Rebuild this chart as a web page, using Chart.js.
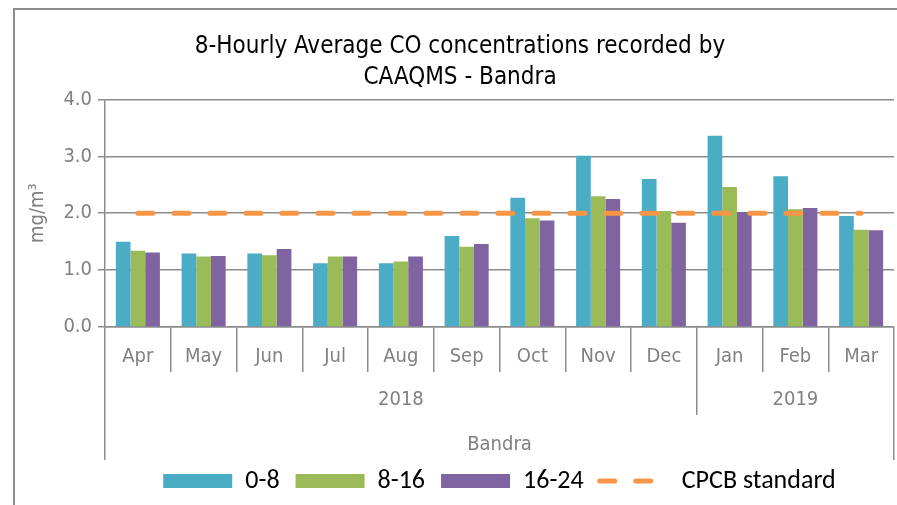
<!DOCTYPE html>
<html>
<head>
<meta charset="utf-8">
<script src="https://cdn.jsdelivr.net/npm/chart.js"></script>
<style>
  html, body { margin: 0; padding: 0; background: #fff; }
  #wrap { position: relative; width: 897px; height: 505px; overflow: hidden; }
  #frame { position: absolute; left: 13px; top: 8px; width: 1000px; height: 600px;
           border-left: 2px solid #8c8c8c; border-top: 2px solid #8c8c8c; }
  canvas { position: absolute; left: 0; top: 0; }
</style>
</head>
<body>
<div id="wrap">
  <div id="frame"></div>
  <canvas id="chart" width="897" height="505"></canvas>
</div>
<script>
// categories
const months = ["Apr", "May", "Jun", "Jul", "Aug", "Sep", "Oct", "Nov", "Dec", "Jan", "Feb", "Mar"];
const yearLabels = ["", "", "", "", "2018", "", "", "", "", "", "2019", ""];
const siteLabels = ["Bandra"];
const yTicks = [0, 1, 2, 3, 4];

// series (mg/m3)
const hours0to8 = [1.50, 1.29, 1.29, 1.12, 1.12, 1.60, 2.27, 3.01, 2.60, 3.36, 2.65, 1.95];
const hours8to16 = [1.34, 1.24, 1.26, 1.24, 1.15, 1.41, 1.91, 2.30, 2.04, 2.46, 2.07, 1.71];
const hours16to24 = [1.31, 1.25, 1.37, 1.24, 1.24, 1.46, 1.87, 2.25, 1.83, 2.02, 2.09, 1.70];
const cpcbStandard = [2, 2, 2, 2, 2, 2, 2, 2, 2, 2, 2, 2];

const narrow = "'Liberation Sans Narrow', 'Arial Narrow', 'DejaVu Sans Condensed', sans-serif";
const gridGray = "#8c8c8c";
const labelGray = "#808080";
const orange = "#F79646";
const clear = "rgba(0,0,0,0)";
const dash = [15, 21];

new Chart(document.getElementById("chart"), {
  type: "bar",
  data: {
    labels: months,
    datasets: [
      { label: "0-8", data: hours0to8, backgroundColor: "#4BACC6", pointStyle: "rect", order: 1 },
      { label: "8-16", data: hours8to16, backgroundColor: "#9BBB59", pointStyle: "rect", order: 1 },
      { label: "16-24", data: hours16to24, backgroundColor: "#8064A2", pointStyle: "rect", order: 1 },
      {
        type: "line",
        label: "CPCB standard",
        data: cpcbStandard,
        borderColor: orange,
        backgroundColor: orange,
        borderWidth: 5,
        borderDash: dash,
        borderCapStyle: "round",
        pointRadius: 0,
        pointStyle: "line",
        fill: false,
        order: 0,
      },
    ],
  },
  options: {
    responsive: false,
    animation: false,
    layout: { padding: { left: 26, right: 3, top: 0, bottom: 1 } },
    datasets: {
      bar: { barPercentage: 1, categoryPercentage: 0.67 },
    },
    plugins: {
      tooltip: { enabled: false },
      title: {
        display: true,
        text: ["8-Hourly Average CO concentrations recorded by", "CAAQMS - Bandra"],
        color: "#000",
        font: { family: narrow, size: 24, weight: "normal", lineHeight: 1.3 },
        padding: { top: 31, bottom: 6 },
      },
      legend: {
        position: "bottom",
        fullSize: false,
        labels: {
          usePointStyle: true,
          pointStyleWidth: 69,
          boxHeight: 14,
          padding: 16,
          color: "#000",
          font: { family: "Carlito, Lato, sans-serif", size: 26 },
          sort: (a, b) => a.datasetIndex - b.datasetIndex,
          generateLabels: (chart) =>
            Chart.defaults.plugins.legend.labels.generateLabels(chart).map((item) =>
              item.pointStyle === "line"
                ? Object.assign(item, { lineDash: dash, lineWidth: 5, lineCap: "round", strokeStyle: orange })
                : item
            ),
        },
      },
    },
    scales: {
      y: {
        min: 0,
        max: 4,
        afterBuildTicks: (s) => { s.ticks = yTicks.map((v) => ({ value: v })); },
        afterFit: (s) => { s.width = 79; },
        ticks: {
          color: labelGray,
          font: { family: narrow, size: 20 },
          padding: 6,
          callback: (v) => v.toFixed(1),
        },
        grid: { color: gridGray, lineWidth: 1.5, tickLength: 7 },
        border: { color: gridGray, width: 1.5 },
        title: {
          display: true,
          text: "mg/m³",
          color: labelGray,
          font: { family: narrow, size: 20 },
          padding: 0,
        },
      },
      x: {
        weight: 0,
        afterFit: (s) => { s.height = 45; },
        ticks: {
          color: labelGray,
          font: { family: narrow, size: 20 },
          padding: -27,
          autoSkip: false,
          maxRotation: 0,
        },
        grid: { offset: true, drawOnChartArea: false, color: gridGray, lineWidth: 1.5, tickLength: 45 },
        border: { color: gridGray, width: 1.5 },
      },
      x2: {
        type: "category",
        position: "bottom",
        weight: 1,
        labels: yearLabels,
        offset: true,
        afterFit: (s) => { s.height = 43; },
        ticks: {
          color: labelGray,
          font: { family: narrow, size: 20 },
          padding: -27,
          autoSkip: false,
          maxRotation: 0,
        },
        grid: {
          offset: true,
          drawOnChartArea: false,
          lineWidth: 1.5,
          tickLength: 43,
          color: (c) => (c.type === "scale" || c.index === 0 || c.index === 9) ? gridGray : clear,
        },
        border: { display: false },
      },
      x3: {
        type: "category",
        position: "bottom",
        weight: 2,
        labels: siteLabels,
        offset: true,
        afterFit: (s) => { s.height = 37; },
        ticks: {
          color: labelGray,
          font: { family: narrow, size: 20 },
          padding: -27,
          autoSkip: false,
          maxRotation: 0,
        },
        grid: { offset: true, drawOnChartArea: false, color: gridGray, lineWidth: 1.5, tickLength: 45 },
        border: { display: false },
      },
    },
  },
});
</script>
</body>
</html>
